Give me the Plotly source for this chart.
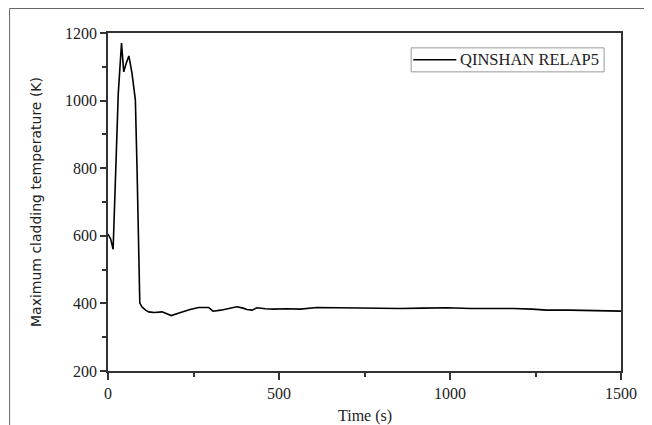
import plotly.graph_objects as go

# Maximum cladding temperature, QINSHAN RELAP5
time_s = [0, 8, 15, 22, 30, 39.5, 46, 53, 61, 70, 80, 85, 90, 93, 100, 110, 119,
          135, 158, 175, 185, 210, 240, 265, 294, 300, 307, 330, 360, 377, 395,
          406, 421, 436, 460, 484, 520, 562, 611, 680, 757, 796, 855, 920, 991,
          1060, 1120, 1185, 1240, 1283, 1350, 1420, 1478, 1500]
temp_k = [605, 590, 560, 750, 1020, 1170, 1085, 1110, 1132, 1082, 1002, 795, 560, 401, 389, 380, 375,
          373, 375, 368, 364, 372, 382, 388, 388, 383, 377, 380, 386, 390, 386,
          382, 380, 387, 384, 383, 384, 383, 388, 387, 386, 385, 385, 386, 387,
          385, 386, 385, 383, 380, 380, 379, 377, 377]

series_name = "QINSHAN RELAP5"
x_title = "Time (s)"
y_title = "Maximum cladding temperature (K)"

SERIF = "Liberation Serif"
TXT = "#222"

fig = go.Figure()
fig.add_trace(go.Scatter(
    x=time_s, y=temp_k, mode="lines", name=series_name,
    line=dict(color="black", width=1.6), showlegend=False
))

axis_common = dict(
    showline=True, linecolor="#333", linewidth=1.5, mirror=True, automargin=False,
    showgrid=False, zeroline=False, ticks="outside", tickcolor="#333",
    tickwidth=1.5, tickfont=dict(family=SERIF, size=16, color=TXT),
)

fig.update_xaxes(
    range=[0, 1500], dtick=500, ticklen=7,
    minor=dict(dtick=250, ticks="outside", ticklen=4, tickcolor="#333", tickwidth=1.5),
    **axis_common
)
fig.update_yaxes(
    range=[200, 1200], dtick=200, ticklen=6,
    minor=dict(dtick=100, ticks="outside", ticklen=4, tickcolor="#333", tickwidth=1.5),
    title=dict(text=y_title, font=dict(family="DejaVu Sans", size=14, color=TXT), standoff=20),
    **axis_common
)

# x title placed as annotation so it sits where the original has it
fig.add_annotation(x=0.5, y=-0.133, xref="paper", yref="paper", text=x_title,
                   showarrow=False, xanchor="center", yanchor="middle",
                   font=dict(family=SERIF, size=16, color=TXT))

# thin outer frame (top and left edges of the cropped figure)
frame = dict(type="line", xref="paper", yref="paper", line=dict(color="#666", width=1))
fig.add_shape(x0=-0.1918, x1=1.08, y0=1.0725, y1=1.0725, **frame)
fig.add_shape(x0=-0.1918, x1=-0.1918, y0=1.0725, y1=-0.19, **frame)

# legend box drawn by hand to match the compact original
fig.add_shape(type="rect", xref="paper", yref="paper", x0=0.591, x1=0.967, y0=0.885, y1=0.956,
              line=dict(color="#999", width=1), fillcolor="white")
fig.add_shape(type="line", xref="paper", yref="paper", x0=0.595, x1=0.679, y0=0.921, y1=0.921,
              line=dict(color="black", width=1.5))
fig.add_annotation(x=0.683, y=0.921, xref="paper", yref="paper", text=series_name,
                   showarrow=False, xanchor="left", yanchor="middle",
                   font=dict(family=SERIF, size=16.5, color=TXT))

fig.update_layout(
    width=652, height=425,
    margin=dict(l=99.5, r=39, t=25, b=62, autoexpand=False),
    paper_bgcolor="white", plot_bgcolor="white",
)

fig.write_html("out.html")
